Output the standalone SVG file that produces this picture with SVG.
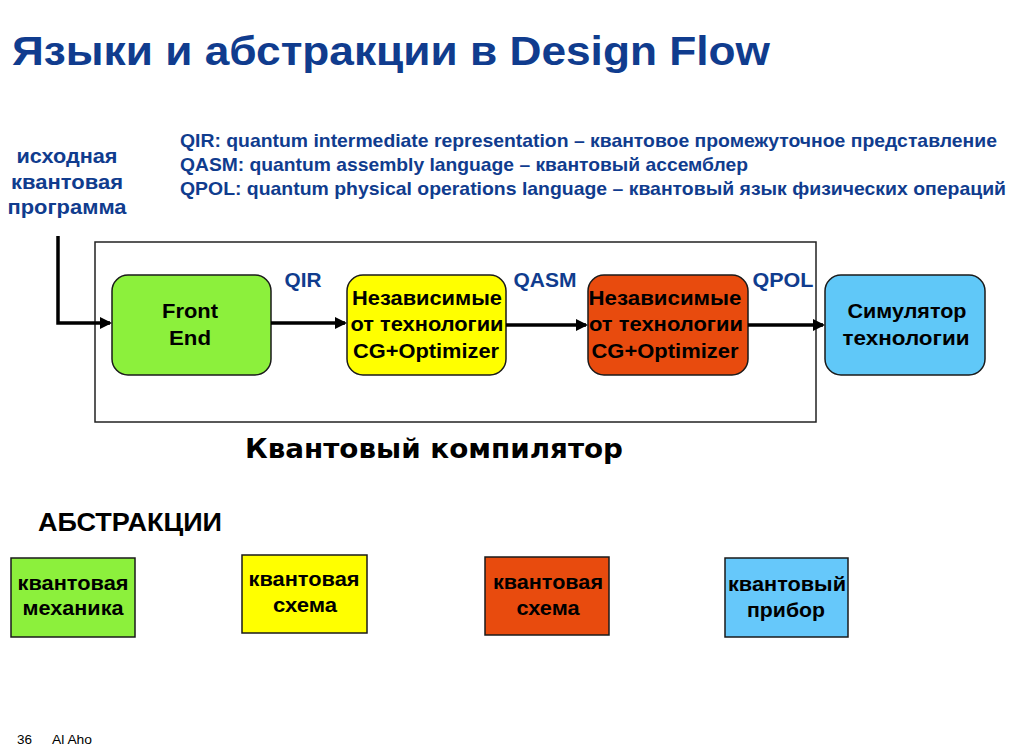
<svg xmlns="http://www.w3.org/2000/svg" width="1023" height="752" viewBox="0 0 1023 752">
<defs>
<style>
text{font-family:"Liberation Sans",Arial,sans-serif;font-weight:bold}
.blue{fill:#103C8E}
.node{stroke:#1a1a1a;stroke-width:1.5}
.nt{font-size:21px;fill:#000;text-anchor:middle}
.lab{font-size:20px;text-anchor:middle}
.conn{stroke:#000;stroke-width:3.5;fill:none}
</style>
<marker id="arr" markerWidth="12" markerHeight="12" refX="10" refY="6" orient="auto" markerUnits="userSpaceOnUse" viewBox="0 0 12 12">
<path d="M0,0 L12,6 L0,12 z" fill="#000"/>
</marker>
</defs>
<rect width="1023" height="752" fill="#fff"/>
<text x="12" y="65" class="blue" font-size="41" textLength="758" lengthAdjust="spacingAndGlyphs">Языки и абстракции в Design Flow</text>
<g id="legend" class="blue" font-size="18.5">
<text x="180" y="147" textLength="817" lengthAdjust="spacingAndGlyphs">QIR: quantum intermediate representation – квантовое промежуточное представление</text>
<text x="180" y="171" textLength="568" lengthAdjust="spacingAndGlyphs">QASM: quantum assembly language – квантовый ассемблер</text>
<text x="180" y="195" textLength="826" lengthAdjust="spacingAndGlyphs">QPOL: quantum physical operations language – квантовый язык физических операций</text>
</g>
<g id="source" class="blue" font-size="20" text-anchor="middle">
<text x="67" y="163" textLength="101" lengthAdjust="spacingAndGlyphs">исходная</text>
<text x="67" y="189" textLength="112" lengthAdjust="spacingAndGlyphs">квантовая</text>
<text x="67" y="214" textLength="119" lengthAdjust="spacingAndGlyphs">программа</text>
</g>
<g id="compiler">
<rect x="95" y="242" width="721" height="180" fill="none" stroke="#222" stroke-width="1.5"/>
<text x="434" y="458" font-size="26" text-anchor="middle" fill="#000" style="font-family:'DejaVu Sans',Verdana,sans-serif" textLength="378" lengthAdjust="spacingAndGlyphs">Квантовый компилятор</text>
</g>
<g id="frontend">
<rect class="node" x="112" y="275" width="159" height="100" rx="16" fill="#8CF03C"/>
<text class="nt" x="190" y="318" font-size="22" textLength="56" lengthAdjust="spacingAndGlyphs">Front</text>
<text class="nt" x="190" y="345" font-size="22" textLength="42" lengthAdjust="spacingAndGlyphs">End</text>
</g>
<g id="cg1">
<rect class="node" x="347" y="275" width="159" height="100" rx="16" fill="#FFFF00"/>
<text class="nt" x="427" y="305" textLength="150" lengthAdjust="spacingAndGlyphs">Независимые</text>
<text class="nt" x="427" y="331" textLength="153" lengthAdjust="spacingAndGlyphs">от технологии</text>
<text class="nt" x="426" y="358" textLength="146" lengthAdjust="spacingAndGlyphs">CG+Optimizer</text>
</g>
<g id="cg2">
<rect class="node" x="588" y="275" width="160" height="100" rx="16" fill="#E84B0E"/>
<text class="nt" x="665" y="305" textLength="153" lengthAdjust="spacingAndGlyphs">Независимые</text>
<text class="nt" x="666" y="331" textLength="154" lengthAdjust="spacingAndGlyphs">от технологии</text>
<text class="nt" x="665" y="358" textLength="147" lengthAdjust="spacingAndGlyphs">CG+Optimizer</text>
</g>
<g id="sim">
<rect class="node" x="825" y="275" width="160" height="100" rx="16" fill="#60C8F8"/>
<text class="nt" x="907" y="318" textLength="119" lengthAdjust="spacingAndGlyphs">Симулятор</text>
<text class="nt" x="906" y="345" textLength="127" lengthAdjust="spacingAndGlyphs">технологии</text>
</g>
<g id="connectors">
<path class="conn" d="M58,236 V323 H110" marker-end="url(#arr)"/>
<path class="conn" d="M271,323 H345" marker-end="url(#arr)"/>
<path class="conn" d="M506,325 H586" marker-end="url(#arr)"/>
<path class="conn" d="M748,325 H823" marker-end="url(#arr)"/>
<text class="lab blue" x="303" y="287" textLength="37" lengthAdjust="spacingAndGlyphs">QIR</text>
<text class="lab blue" x="545" y="287" textLength="63" lengthAdjust="spacingAndGlyphs">QASM</text>
<text class="lab blue" x="783" y="287" textLength="61" lengthAdjust="spacingAndGlyphs">QPOL</text>
</g>
<text x="38" y="531" font-size="25" fill="#000" textLength="184" lengthAdjust="spacingAndGlyphs">АБСТРАКЦИИ</text>
<g id="abs1">
<rect class="node" x="11" y="558" width="124" height="79" fill="#8CF03C"/>
<text class="nt" x="73" y="590" textLength="111" lengthAdjust="spacingAndGlyphs">квантовая</text>
<text class="nt" x="73" y="615" textLength="101" lengthAdjust="spacingAndGlyphs">механика</text>
</g>
<g id="abs2">
<rect class="node" x="242" y="555" width="125" height="78" fill="#FFFF00"/>
<text class="nt" x="304" y="586" textLength="111" lengthAdjust="spacingAndGlyphs">квантовая</text>
<text class="nt" x="305" y="612" textLength="64" lengthAdjust="spacingAndGlyphs">схема</text>
</g>
<g id="abs3">
<rect class="node" x="485" y="557" width="124" height="78" fill="#E84B0E"/>
<text class="nt" x="548" y="589" textLength="110" lengthAdjust="spacingAndGlyphs">квантовая</text>
<text class="nt" x="548" y="615" textLength="63" lengthAdjust="spacingAndGlyphs">схема</text>
</g>
<g id="abs4">
<rect class="node" x="725" y="558" width="123" height="79" fill="#66C8FA"/>
<text class="nt" x="787" y="591" font-size="22" textLength="118" lengthAdjust="spacingAndGlyphs">квантовый</text>
<text class="nt" x="786" y="617" font-size="22" textLength="78" lengthAdjust="spacingAndGlyphs">прибор</text>
</g>
<g id="footer" font-size="13">
<text x="17" y="744" style="font-weight:normal" textLength="15" lengthAdjust="spacingAndGlyphs">36</text>
<text x="52" y="744" style="font-weight:normal" textLength="40" lengthAdjust="spacingAndGlyphs">Al Aho</text>
</g>
</svg>
